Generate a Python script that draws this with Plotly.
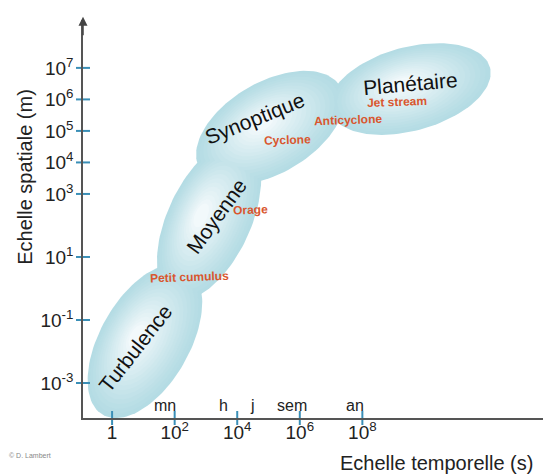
import numpy as np
import plotly.graph_objects as go

# échelles (log10 du temps en s, log10 de l'espace en m)
scales = ["Turbulence", "Moyenne", "Synoptique", "Planétaire"]
time_center = [1.05, 3.10, 5.05, 9.52]
space_center = [-1.67, 2.17, 5.10, 6.33]
half_major = [2.70, 2.72, 2.60, 2.65]
half_minor = [1.43, 1.33, 1.45, 1.33]
tilt_deg = [60, 65, 30, 15]

# étiquettes des échelles
label_x = [0.73, 3.32, 4.55, 9.55]
label_y = [-1.89, 2.30, 5.41, 6.52]
label_angle = [-52, -54, -22, -5]

# phénomènes
phenomena = ["Petit cumulus", "Orage", "Cyclone", "Anticyclone", "Jet stream"]
phen_x = [2.49, 4.41, 5.62, 7.54, 9.11]
phen_y = [0.37, 2.49, 4.71, 5.35, 5.92]

# axes
x_ticks = [0, 2, 4, 6, 8]
x_ticktext = ["1", "10<sup>2</sup>", "10<sup>4</sup>", "10<sup>6</sup>", "10<sup>8</sup>"]
y_ticks = [-3, -1, 1, 3, 4, 5, 6, 7]
y_ticktext = ["10<sup>%d</sup>" % v for v in y_ticks]
units = ["mn", "h", "j", "sem", "an"]
unit_x = [1.70, 3.55, 4.50, 5.75, 7.75]

x_range = [-0.93, 14.03]
y_range = [-4.11, 8.52]

fig = go.Figure()

# ellipses en dégradé (du bord bleu vers le centre clair)
n_layers = 16
c_out = np.array([180, 220, 228])
c_in = np.array([242, 249, 251])
t = np.linspace(0, 2 * np.pi, 120)
for k in range(n_layers):
    f = k / (n_layers - 1)
    s = 1 - 0.85 * f
    col = c_out + (c_in - c_out) * (f ** 1.1)
    color = "rgb(%d,%d,%d)" % tuple(col)
    for i in range(len(scales)):
        th = np.radians(tilt_deg[i])
        a = half_major[i] * s
        b = half_minor[i] * s
        cx = time_center[i] - 0.25 * f
        cy = space_center[i] + 0.15 * f
        ex = cx + a * np.cos(t) * np.cos(th) - b * np.sin(t) * np.sin(th)
        ey = cy + a * np.cos(t) * np.sin(th) + b * np.sin(t) * np.cos(th)
        fig.add_trace(go.Scatter(x=ex, y=ey, mode="lines", fill="toself",
                                 fillcolor=color, line=dict(width=0),
                                 hoverinfo="skip", showlegend=False))

# graduations bleues qui traversent les axes
tick_blue = "#3a8fb7"
fig.add_trace(go.Scatter(x=x_ticks, y=[y_range[0]] * len(x_ticks), mode="markers",
                         marker=dict(symbol="line-ns-open", size=10, color=tick_blue,
                                     line=dict(color=tick_blue, width=2)),
                         cliponaxis=False, hoverinfo="skip", showlegend=False))
fig.add_trace(go.Scatter(x=[x_range[0]] * len(y_ticks), y=y_ticks, mode="markers",
                         marker=dict(symbol="line-ew-open", size=10, color=tick_blue,
                                     line=dict(color=tick_blue, width=2)),
                         cliponaxis=False, hoverinfo="skip", showlegend=False))

annotations = []
for name, x, y, ang in zip(scales, label_x, label_y, label_angle):
    annotations.append(dict(x=x, y=y, xref="x", yref="y", text=name, showarrow=False,
                            xanchor="center", yanchor="middle",
                            textangle=ang, font=dict(size=21, color="#111")))
for name, x, y in zip(phenomena, phen_x, phen_y):
    annotations.append(dict(x=x, y=y, xref="x", yref="y", text="<b>%s</b>" % name,
                            showarrow=False, textangle=-2, xanchor="center",
                            font=dict(size=12, color="#d9562e")))
for name, x in zip(units, unit_x):
    annotations.append(dict(x=x, y=-3.72, xref="x", yref="y", text=name, showarrow=False,
                            xanchor="center", font=dict(size=16, color="#222")))

annotations += [
    dict(x=-0.124, y=0.606, xref="paper", yref="paper", text="Echelle spatiale (m)",
         textangle=-90, showarrow=False, xanchor="center", yanchor="middle",
         font=dict(size=20, color="#222")),
    dict(x=0.756, y=-0.113, xref="paper", yref="paper", text="Echelle temporelle (s)",
         showarrow=False, xanchor="center", yanchor="middle",
         font=dict(size=20, color="#222")),
    dict(x=-0.113, y=-0.095, xref="paper", yref="paper", text="© D. Lambert",
         showarrow=False, xanchor="center", yanchor="middle",
         font=dict(size=7, color="#888")),
    # flèche en haut de l'axe vertical
    dict(x=0, y=1.008, xref="paper", yref="paper", ax=0, ay=20, axref="pixel", ayref="pixel",
         text="", showarrow=True, arrowhead=2, arrowsize=1.2, arrowwidth=1.5,
         arrowcolor="#444"),
]

# la page ajoute une marge de 8 px : la figure est réduite d'autant
fig.update_layout(
    width=543, height=467,
    margin=dict(l=75, r=0, t=12, b=57),
    paper_bgcolor="white", plot_bgcolor="white",
    font=dict(family="Liberation Sans, Arial, sans-serif", color="#222"),
    xaxis=dict(range=x_range, tickmode="array", tickvals=x_ticks, ticktext=x_ticktext,
               showgrid=False, zeroline=False, showline=True, linecolor="#555",
               linewidth=1.5, ticks="", tickfont=dict(size=19), ticklabelstandoff=-4,
               automargin=False),
    yaxis=dict(range=y_range, tickmode="array", tickvals=y_ticks, ticktext=y_ticktext,
               showgrid=False, zeroline=False, showline=True, linecolor="#555",
               linewidth=1.5, ticks="", tickfont=dict(size=19), ticklabelstandoff=4,
               automargin=False),
    annotations=annotations,
    showlegend=False,
)

fig.write_html("out.html", config={"displayModeBar": False})
